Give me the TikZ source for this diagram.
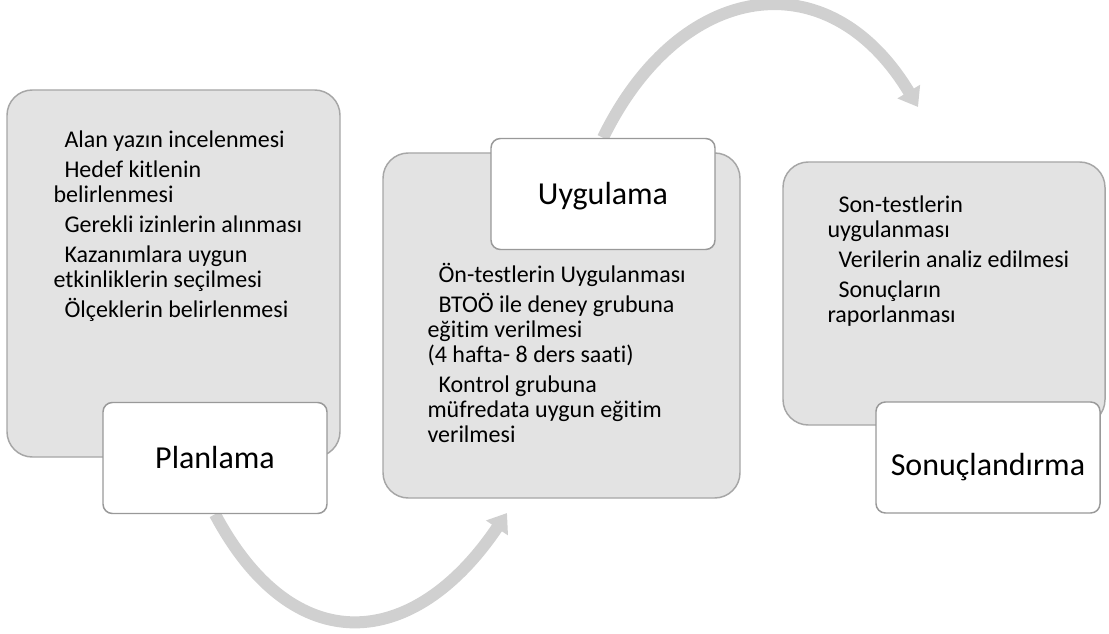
\documentclass[tikz,border=0pt]{standalone}
\usepackage{fontspec}
\setmainfont{Carlito}[Ligatures=NoCommon]
\usepackage{tikz}
\usetikzlibrary{arrows.meta, positioning, backgrounds, calc}

\newcommand{\stepind}{\hspace*{8.25pt}}
\newcommand{\itemfont}{\fontsize{18}{18.75}\selectfont\lineskiplimit=-20pt\relax}

\begin{document}
\begin{tikzpicture}[x=0.75pt, y=0.75pt,
        phase/.style={draw=gray!70, line width=1.1pt, fill=gray!22, rounded corners=19pt},
        title/.style={draw=gray!80, line width=1.1pt, fill=white, rounded corners=7pt, minimum width=168pt, minimum height=83.25pt, text height=21pt, text depth=5pt, font=\fontsize{24}{28}\selectfont},
        items/.style={anchor=base west, inner sep=0pt, align=left, font=\itemfont},
        flow/.style={line width=9pt, draw=gray!37, -{Triangle[length=13.5pt, width=19pt]}}
    ]
        \useasboundingbox (0,0) rectangle (1109,633);

        \node[phase, minimum width=249.75pt, minimum height=275.25pt] (plan) at (173.5,359.5) {};
        \node[phase, minimum width=267.75pt, minimum height=258.75pt] (uyg) at (561.5,307.5) {};
        \node[phase, minimum width=241.5pt, minimum height=197.25pt] (sonuc) at (944,339.5) {};

        \node[title] (plantitle) at (215,175) {Planlama};
        \node[title] (uygtitle) at (603,439) {Uygulama};
        \node[title, text height=32pt] (sonuctitle) at (988,175.5) {Sonuçlandırma};

        \node[items] (planitems) at ([shift={(47,-228)}]plan.north west) {%
            \stepind Alan yazın incelenmesi\\[3.75pt]
            \stepind Hedef kitlenin\\
            belirlenmesi\\[3.75pt]
            \stepind Gerekli izinlerin alınması\\[3.75pt]
            \stepind Kazanımlara uygun\\
            etkinliklerin seçilmesi\\[3.75pt]
            \stepind Ölçeklerin belirlenmesi};
        \node[items] (uygitems) at ([shift={(45,-290)}]uyg.north west) {%
            \stepind Ön-testlerin Uygulanması\\[3.75pt]
            \stepind BTOÖ ile deney grubuna\\
            eğitim verilmesi\\
            (4 hafta- 8 ders saati)\\[3.75pt]
            \stepind Kontrol grubuna\\
            müfredata uygun eğitim\\
            verilmesi};
        \node[items] (sonucitems) at ([shift={(45,-161)}]sonuc.north west) {%
            \stepind Son-testlerin\\
            uygulanması\\[3.75pt]
            \stepind Verilerin analiz edilmesi\\[3.75pt]
            \stepind Sonuçların\\
            raporlanması};

        \coordinate (uygend) at (507,120);
        \coordinate (sonucend) at (918,526);

        \begin{scope}[on background layer]
            \draw[flow] (plantitle.south) to[out=-62, in=236, distance=125pt] (uygend);
            \draw[flow] (uygtitle.north) to[out=64, in=121, distance=131pt] (sonucend);
        \end{scope}

    \end{tikzpicture}
\end{document}
